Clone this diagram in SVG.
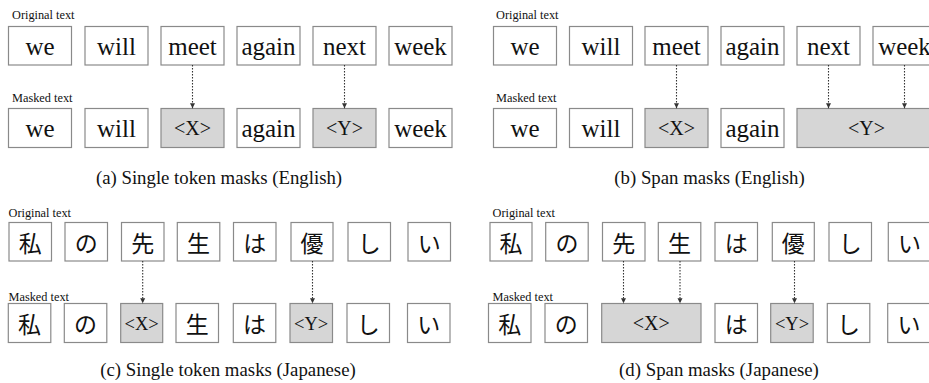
<svg xmlns="http://www.w3.org/2000/svg" width="929" height="383" viewBox="0 0 929 383">
<style>
.b{fill:#fff;stroke:#8a8a8a;stroke-width:1.2}
.m{fill:#d6d6d6;stroke:#8a8a8a;stroke-width:1.2}
.w,.t,.ts,.l,.c{font-family:'Liberation Serif','Times New Roman',Times,'DejaVu Serif',serif}
.w{font-size:25px;fill:#111;text-anchor:middle}
.t{font-size:20px;fill:#111;text-anchor:middle}
.ts{font-size:18.5px;fill:#111;text-anchor:middle}
.j{font-family:'Noto Sans CJK JP',sans-serif;font-size:23px;fill:#111;text-anchor:middle}
.l{font-size:12.3px;fill:#111}
.c{font-size:18.8px;fill:#111;text-anchor:middle}
.a{stroke:#333;stroke-width:1.1;stroke-dasharray:1.6 1.4;fill:none}
</style>
<defs>
<marker id="ah" markerWidth="6" markerHeight="6" refX="5" refY="3" orient="auto" markerUnits="userSpaceOnUse">
<path d="M0,0.5 L5,3 L0,5.5 Z" fill="#333"/>
</marker>
</defs>

<!-- Panel (a) -->
<g id="panel-a">
<text class="l" x="12" y="19">Original text</text>
<text class="l" x="12" y="101.5">Masked text</text>
<g id="a-o1"><rect class="b" x="8.5" y="26.5" width="63" height="38.5"/><text class="w" x="40" y="55">we</text></g>
<g id="a-o2"><rect class="b" x="85" y="26.5" width="63" height="38.5"/><text class="w" x="116.5" y="55">will</text></g>
<g id="a-o3"><rect class="b" x="161" y="26.5" width="63" height="38.5"/><text class="w" x="192.5" y="55">meet</text></g>
<g id="a-o4"><rect class="b" x="237" y="26.5" width="63" height="38.5"/><text class="w" x="268.5" y="55">again</text></g>
<g id="a-o5"><rect class="b" x="313" y="26.5" width="63" height="38.5"/><text class="w" x="344.5" y="55">next</text></g>
<g id="a-o6"><rect class="b" x="389" y="26.5" width="63" height="38.5"/><text class="w" x="420.5" y="55">week</text></g>
<g id="a-m1"><rect class="b" x="8.5" y="108.5" width="63" height="39"/><text class="w" x="40" y="137">we</text></g>
<g id="a-m2"><rect class="b" x="85" y="108.5" width="63" height="39"/><text class="w" x="116.5" y="137">will</text></g>
<g id="a-m3"><rect class="m" x="161" y="108.5" width="63" height="39"/><text class="t" x="192.5" y="135">&lt;X&gt;</text></g>
<g id="a-m4"><rect class="b" x="237" y="108.5" width="63" height="39"/><text class="w" x="268.5" y="137">again</text></g>
<g id="a-m5"><rect class="m" x="313" y="108.5" width="63" height="39"/><text class="t" x="344.5" y="135">&lt;Y&gt;</text></g>
<g id="a-m6"><rect class="b" x="389" y="108.5" width="63" height="39"/><text class="w" x="420.5" y="137">week</text></g>
<text class="c" x="219" y="184">(a) Single token masks (English)</text>
</g>

<!-- Panel (b) -->
<g id="panel-b">
<text class="l" x="496" y="19">Original text</text>
<text class="l" x="496" y="101.5">Masked text</text>
<g id="b-o1"><rect class="b" x="493.5" y="26.5" width="63" height="38.5"/><text class="w" x="525" y="55">we</text></g>
<g id="b-o2"><rect class="b" x="569.5" y="26.5" width="63" height="38.5"/><text class="w" x="601" y="55">will</text></g>
<g id="b-o3"><rect class="b" x="645" y="26.5" width="63" height="38.5"/><text class="w" x="676.5" y="55">meet</text></g>
<g id="b-o4"><rect class="b" x="721" y="26.5" width="63" height="38.5"/><text class="w" x="752.5" y="55">again</text></g>
<g id="b-o5"><rect class="b" x="797" y="26.5" width="63" height="38.5"/><text class="w" x="828.5" y="55">next</text></g>
<g id="b-o6"><rect class="b" x="873" y="26.5" width="63" height="38.5"/><text class="w" x="904.5" y="55">week</text></g>
<g id="b-m1"><rect class="b" x="493.5" y="108.5" width="63" height="39"/><text class="w" x="525" y="137">we</text></g>
<g id="b-m2"><rect class="b" x="569.5" y="108.5" width="63" height="39"/><text class="w" x="601" y="137">will</text></g>
<g id="b-m3"><rect class="m" x="645" y="108.5" width="63" height="39"/><text class="t" x="676.5" y="135">&lt;X&gt;</text></g>
<g id="b-m4"><rect class="b" x="721" y="108.5" width="63" height="39"/><text class="w" x="752.5" y="137">again</text></g>
<g id="b-m5"><rect class="m" x="797" y="108.5" width="139" height="39"/><text class="t" x="866.5" y="135">&lt;Y&gt;</text></g>
<text class="c" x="709.5" y="184">(b) Span masks (English)</text>
</g>

<!-- Panel (c) -->
<g id="panel-c">
<text class="l" x="8.5" y="217">Original text</text>
<text class="l" x="8.5" y="300.5">Masked text</text>
<g id="c-o1"><rect class="b" x="9" y="222.5" width="42.5" height="38.5"/><text class="j" x="30.2" y="251.5">私</text></g>
<g id="c-o2"><rect class="b" x="65" y="222.5" width="42.5" height="38.5"/><text class="j" x="86.2" y="251.5">の</text></g>
<g id="c-o3"><rect class="b" x="121.5" y="222.5" width="42.5" height="38.5"/><text class="j" x="142.7" y="251.5">先</text></g>
<g id="c-o4"><rect class="b" x="177.3" y="222.5" width="42.5" height="38.5"/><text class="j" x="198.5" y="251.5">生</text></g>
<g id="c-o5"><rect class="b" x="233.5" y="222.5" width="42.5" height="38.5"/><text class="j" x="254.7" y="251.5">は</text></g>
<g id="c-o6"><rect class="b" x="291" y="222.5" width="42" height="38.5"/><text class="j" x="312" y="251.5">優</text></g>
<g id="c-o7"><rect class="b" x="348" y="222.5" width="42.5" height="38.5"/><text class="j" x="369.2" y="251.5">し</text></g>
<g id="c-o8"><rect class="b" x="408" y="222.5" width="42.5" height="38.5"/><text class="j" x="429.2" y="251.5">い</text></g>
<g id="c-m1"><rect class="b" x="8.3" y="303.5" width="42.5" height="39"/><text class="j" x="29.5" y="332.5">私</text></g>
<g id="c-m2"><rect class="b" x="64.3" y="303.5" width="42.5" height="39"/><text class="j" x="85.5" y="332.5">の</text></g>
<g id="c-m3"><rect class="m" x="120.7" y="303.5" width="42" height="39"/><text class="ts" x="141.7" y="329.5">&lt;X&gt;</text></g>
<g id="c-m4"><rect class="b" x="176" y="303.5" width="42.5" height="39"/><text class="j" x="197.2" y="332.5">生</text></g>
<g id="c-m5"><rect class="b" x="233.3" y="303.5" width="42.5" height="39"/><text class="j" x="254.5" y="332.5">は</text></g>
<g id="c-m6"><rect class="m" x="290" y="303.5" width="42.5" height="39"/><text class="ts" x="311.2" y="329.5">&lt;Y&gt;</text></g>
<g id="c-m7"><rect class="b" x="347" y="303.5" width="42.5" height="39"/><text class="j" x="368.2" y="332.5">し</text></g>
<g id="c-m8"><rect class="b" x="407.5" y="303.5" width="42.5" height="39"/><text class="j" x="428.7" y="332.5">い</text></g>
<text class="c" x="228" y="376">(c) Single token masks (Japanese)</text>
</g>

<!-- Panel (d) -->
<g id="panel-d">
<text class="l" x="492.5" y="217">Original text</text>
<text class="l" x="492.5" y="300.5">Masked text</text>
<g id="d-o1"><rect class="b" x="490" y="222.5" width="42" height="38.5"/><text class="j" x="511" y="251.5">私</text></g>
<g id="d-o2"><rect class="b" x="545.7" y="222.5" width="42.5" height="38.5"/><text class="j" x="567" y="251.5">の</text></g>
<g id="d-o3"><rect class="b" x="602.5" y="222.5" width="42.5" height="38.5"/><text class="j" x="623.7" y="251.5">先</text></g>
<g id="d-o4"><rect class="b" x="658.3" y="222.5" width="42.5" height="38.5"/><text class="j" x="679.5" y="251.5">生</text></g>
<g id="d-o5"><rect class="b" x="715" y="222.5" width="42.5" height="38.5"/><text class="j" x="736.2" y="251.5">は</text></g>
<g id="d-o6"><rect class="b" x="772.3" y="222.5" width="42" height="38.5"/><text class="j" x="793.3" y="251.5">優</text></g>
<g id="d-o7"><rect class="b" x="829" y="222.5" width="42.5" height="38.5"/><text class="j" x="850.2" y="251.5">し</text></g>
<g id="d-o8"><rect class="b" x="888.3" y="222.5" width="42.5" height="38.5"/><text class="j" x="909.5" y="251.5">い</text></g>
<g id="d-m1"><rect class="b" x="488.5" y="303.5" width="42.5" height="39"/><text class="j" x="509.7" y="332.5">私</text></g>
<g id="d-m2"><rect class="b" x="545" y="303.5" width="42.5" height="39"/><text class="j" x="566.2" y="332.5">の</text></g>
<g id="d-m3"><rect class="m" x="601.7" y="303.5" width="99.3" height="39"/><text class="t" x="651.3" y="330">&lt;X&gt;</text></g>
<g id="d-m4"><rect class="b" x="715" y="303.5" width="42.5" height="39"/><text class="j" x="736.2" y="332.5">は</text></g>
<g id="d-m5"><rect class="m" x="770.7" y="303.5" width="42.5" height="39"/><text class="ts" x="792" y="329.5">&lt;Y&gt;</text></g>
<g id="d-m6"><rect class="b" x="827.3" y="303.5" width="42.5" height="39"/><text class="j" x="848.5" y="332.5">し</text></g>
<g id="d-m7"><rect class="b" x="887.7" y="303.5" width="42.5" height="39"/><text class="j" x="908.9" y="332.5">い</text></g>
<text class="c" x="719" y="376">(d) Span masks (Japanese)</text>
</g>

<!-- Connectors -->
<g id="connectors">
<line class="a" x1="192.5" y1="65" x2="192.5" y2="108.3" marker-end="url(#ah)"/>
<line class="a" x1="344.5" y1="65" x2="344.5" y2="108.3" marker-end="url(#ah)"/>
<line class="a" x1="676.5" y1="65" x2="676.5" y2="108.3" marker-end="url(#ah)"/>
<line class="a" x1="828.5" y1="65" x2="828.5" y2="108.3" marker-end="url(#ah)"/>
<line class="a" x1="904.5" y1="65" x2="904.5" y2="108.3" marker-end="url(#ah)"/>
<line class="a" x1="142.7" y1="261" x2="142.7" y2="303.3" marker-end="url(#ah)"/>
<line class="a" x1="312.5" y1="261" x2="312.5" y2="303.3" marker-end="url(#ah)"/>
<line class="a" x1="623.5" y1="261" x2="623.5" y2="303.3" marker-end="url(#ah)"/>
<line class="a" x1="680" y1="261" x2="680" y2="303.3" marker-end="url(#ah)"/>
<line class="a" x1="794.5" y1="261" x2="794.5" y2="303.3" marker-end="url(#ah)"/>
</g>
</svg>
